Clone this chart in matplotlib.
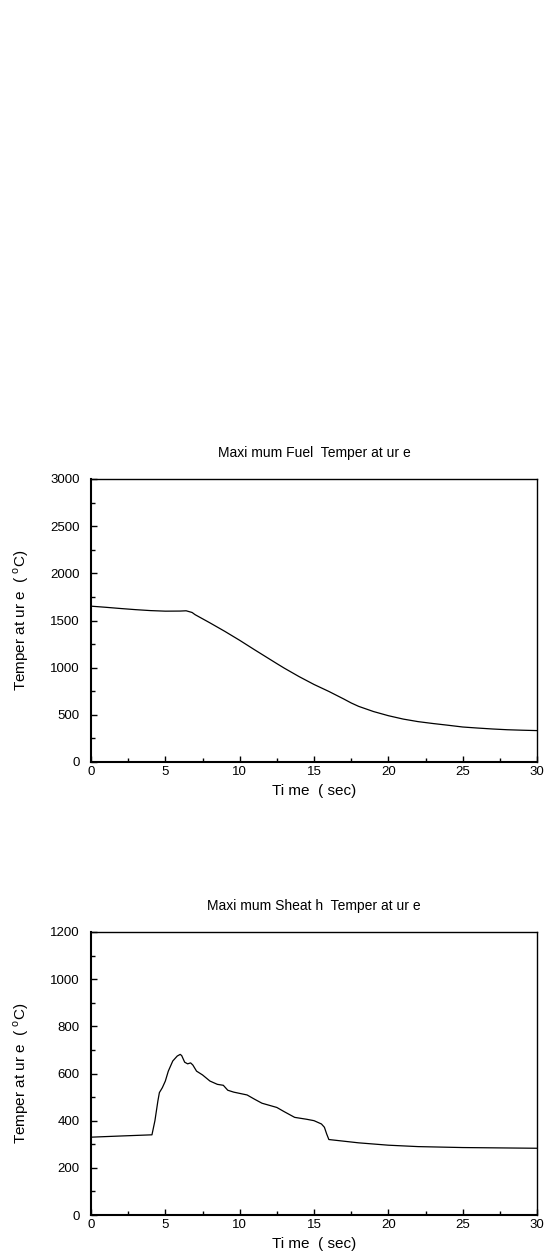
"""two transient temperature plots, fuel and sheath"""
import numpy as np
import matplotlib
matplotlib.use("Agg")
import matplotlib.pyplot as plt
from matplotlib.ticker import MultipleLocator

plt.rcParams["font.family"] = ["Liberation Sans", "DejaVu Sans"]
plt.rcParams["mathtext.fontset"] = "custom"
plt.rcParams["mathtext.rm"] = "Liberation Sans"

# maximum fuel temperature
fuel_time = [0, 1, 2, 3, 4, 5, 6, 6.4, 6.8, 7, 8, 9, 10, 11, 12, 12.5, 13, 14, 15,
             16, 17, 17.5, 18, 19, 20, 21, 22, 23, 24, 25, 26, 27, 28, 29, 30]
fuel_temp = [1652, 1640, 1627, 1615, 1605, 1599, 1600, 1603, 1585, 1562, 1475, 1385,
             1290, 1190, 1092, 1043, 995, 905, 822, 748, 668, 626, 590, 535, 491,
             455, 428, 408, 390, 371, 360, 350, 342, 337, 333]

# maximum sheath temperature
sheath_time = [0, 2, 4.1, 4.3, 4.5, 4.6, 4.8, 5, 5.2, 5.5, 5.8, 6.0, 6.1, 6.3, 6.5,
               6.7, 6.85, 7.1, 7.5, 8, 8.5, 8.9, 9.2, 9.6, 10.5, 11, 11.5, 12.5, 13,
               13.7, 14.5, 15, 15.5, 15.7, 15.85, 16.0, 17, 18, 20, 22, 25, 30]
sheath_temp = [330, 335, 340, 400, 484, 519, 540, 568, 610, 653, 674, 681, 676, 648,
               641, 645, 636, 610, 594, 568, 554, 550, 529, 521, 509, 491, 474, 456,
               438, 414, 406, 400, 386, 372, 344, 320, 313, 306, 296, 290, 286, 283]

fig = plt.figure(figsize=(5.46, 12.59), dpi=100)
W, H = 546, 1259


def make_axes(top_px, bottom_px):
    return fig.add_axes([91 / W, 1 - bottom_px / H, (537 - 91) / W, (bottom_px - top_px) / H])


def style(ax, ymax, ymajor, title):
    ax.set_xlim(0, 30)
    ax.set_ylim(0, ymax)
    ax.xaxis.set_major_locator(MultipleLocator(5))
    ax.xaxis.set_minor_locator(MultipleLocator(2.5))
    ax.yaxis.set_major_locator(MultipleLocator(ymajor))
    ax.yaxis.set_minor_locator(MultipleLocator(ymajor / 2))
    ax.tick_params(which="both", direction="in", top=False, right=False,
                   width=1.0, labelsize=9.5, color="black")
    ax.tick_params(which="major", length=4, pad=3)
    ax.tick_params(which="minor", length=3)
    ax.tick_params(axis="y", pad=8)
    for side in ["left", "bottom"]:
        ax.spines[side].set_linewidth(1.5)
    for side in ["top", "right"]:
        ax.spines[side].set_linewidth(1.0)
    ax.set_xlabel("Ti me  ( sec)", fontsize=11, labelpad=4)
    ax.set_ylabel(r"Temper at ur e  ( $^{\mathregular{o}}$C)", fontsize=11, labelpad=14)
    ax.set_title(title, fontsize=10, pad=16)


ax1 = make_axes(479, 762)
ax1.plot(fuel_time, fuel_temp, color="black", lw=0.9)
style(ax1, 3000, 500, "Maxi mum Fuel  Temper at ur e")

ax2 = make_axes(932, 1215)
ax2.plot(sheath_time, sheath_temp, color="black", lw=0.9)
style(ax2, 1200, 200, "Maxi mum Sheat h  Temper at ur e")

fig.savefig("out.png", dpi=100)
